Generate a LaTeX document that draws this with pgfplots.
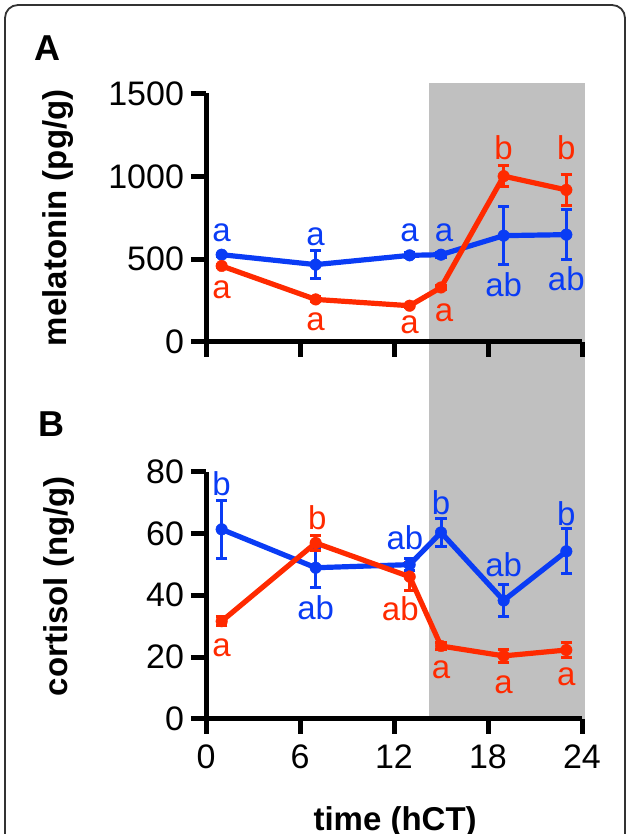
\documentclass[border=0pt]{standalone}
\usepackage{fontspec}
\setmainfont{Liberation Sans}
\usepackage{pgfplots}
\usepackage{pgfplotstable}
\pgfplotsset{compat=1.18}
\definecolor{cblue}{HTML}{0A3CF5}
\definecolor{cred}{HTML}{FF2A00}
\definecolor{cgray}{HTML}{C0C0C0}

% time (hCT), mean, error
\pgfplotstableread{
x y e
1 527 10
7 467 85
13 523 15
15 527 15
19 642 177
23 648 150
}\melblue
\pgfplotstableread{
x y e
1 459 10
7 257 15
13 219 10
15 329 10
19 1001 65
23 918 92
}\melred
\pgfplotstableread{
x y e
1 61.3 9.3
7 48.9 6.5
13 49.9 2
15 60.3 4.4
19 38.3 5.2
23 54.2 7.3
}\corblue
\pgfplotstableread{
x y e
1 31.6 1.5
7 56.9 2.5
13 46.0 4.6
15 23.6 1.0
19 20.4 2.0
23 22.3 2.5
}\corred

\pgfplotsset{
  panel/.style={
    scale only axis, width=188pt,
    xmin=0, xmax=24, xtick={0,6,12,18,24},
    axis x line*=bottom, axis y line*=left,
    axis line style={line width=2.5pt},
    every tick/.style={black, line width=2.5pt},
    major tick length=7.5pt, tick align=outside,
    axis on top, clip=false,
    tick label style={font=\fontsize{17}{20}\selectfont},
    /pgf/number format/assume math mode=true,
    /pgf/number format/1000 sep={},
    scaled y ticks=false,
    xticklabel shift=2pt,
    label style={font=\fontsize{16.5}{20}\selectfont\bfseries, inner sep=0pt, anchor=center},
  },
  series/.style={#1, line width=2.6pt, line join=round, mark=*, mark size=2.9pt,
    mark options={solid, fill=#1, draw=#1, line width=0.2pt},
    error bars/.cd, y dir=both, y explicit, error mark=-,
    error bar style={#1, line width=1.5pt},
    error mark options={#1, rotate=90, line width=1.5pt, mark size=2.9pt}},
}
\tikzset{lab/.style={font=\fontsize{16.5}{20}\selectfont, inner sep=0pt, anchor=center}}

\begin{document}
\begin{tikzpicture}
\useasboundingbox (0,0) rectangle (314.5pt,417pt);
\draw[black!80, line width=0.9pt, rounded corners=6.5pt] (2.5pt,-30pt) rectangle (312.5pt,414.5pt);
\node[font=\fontsize{18}{20}\selectfont\bfseries, inner sep=0pt] at (23.5pt,393pt) {A};
\node[font=\fontsize{18}{20}\selectfont\bfseries, inner sep=0pt] at (25.5pt,205pt) {B};

\begin{axis}[panel, at={(103pt,246pt)}, anchor=south west, height=124.25pt,
  ymin=0, ymax=1500, ytick={0,500,1000,1500}, xticklabels={},
  ylabel={melatonin (pg/g)},
  ylabel style={at={(axis description cs:-0.394,0.5)}}]
\fill[cgray] (axis cs:14.23,1563) rectangle (axis cs:24.19,-2276);
\addplot[series=cblue] table[x=x, y=y, y error=e] {\melblue};
\addplot[series=cred] table[x=x, y=y, y error=e] {\melred};
\node[lab, cblue] at (axis cs:1,662) {a};
\node[lab, cblue] at (axis cs:7,636) {a};
\node[lab, cblue] at (axis cs:13,662) {a};
\node[lab, cblue] at (axis cs:15.2,662) {a};
\node[lab, cblue] at (axis cs:19,343) {ab};
\node[lab, cblue] at (axis cs:23,383) {ab};
\node[lab, cred] at (axis cs:1,313) {a};
\node[lab, cred] at (axis cs:7,124) {a};
\node[lab, cred] at (axis cs:13,104) {a};
\node[lab, cred] at (axis cs:15.2,174) {a};
\node[lab, cred] at (axis cs:19,1171) {b};
\node[lab, cred] at (axis cs:23,1171) {b};
\end{axis}

\begin{axis}[panel, at={(103pt,57.5pt)}, anchor=south west, height=123.75pt,
  ymin=0, ymax=80, ytick={0,20,40,60,80},
  ylabel={cortisol (ng/g)}, xlabel={time (hCT)},
  ylabel style={at={(axis description cs:-0.391,0.537)}},
  xlabel style={at={(axis description cs:0.503,-0.415)}}]
\addplot[series=cblue] table[x=x, y=y, y error=e] {\corblue};
\addplot[series=cred] table[x=x, y=y, y error=e] {\corred};
\node[lab, cblue] at (axis cs:1,76) {b};
\node[lab, cblue] at (axis cs:7,36) {ab};
\node[lab, cblue] at (axis cs:12.7,58.5) {ab};
\node[lab, cblue] at (axis cs:15,70) {b};
\node[lab, cblue] at (axis cs:19,50) {ab};
\node[lab, cblue] at (axis cs:23,66.4) {b};
\node[lab, cred] at (axis cs:1,23) {a};
\node[lab, cred] at (axis cs:7.1,65) {b};
\node[lab, cred] at (axis cs:12.4,35.6) {ab};
\node[lab, cred] at (axis cs:15,16) {a};
\node[lab, cred] at (axis cs:19,11) {a};
\node[lab, cred] at (axis cs:23,13.8) {a};
\end{axis}
\end{tikzpicture}
\end{document}
